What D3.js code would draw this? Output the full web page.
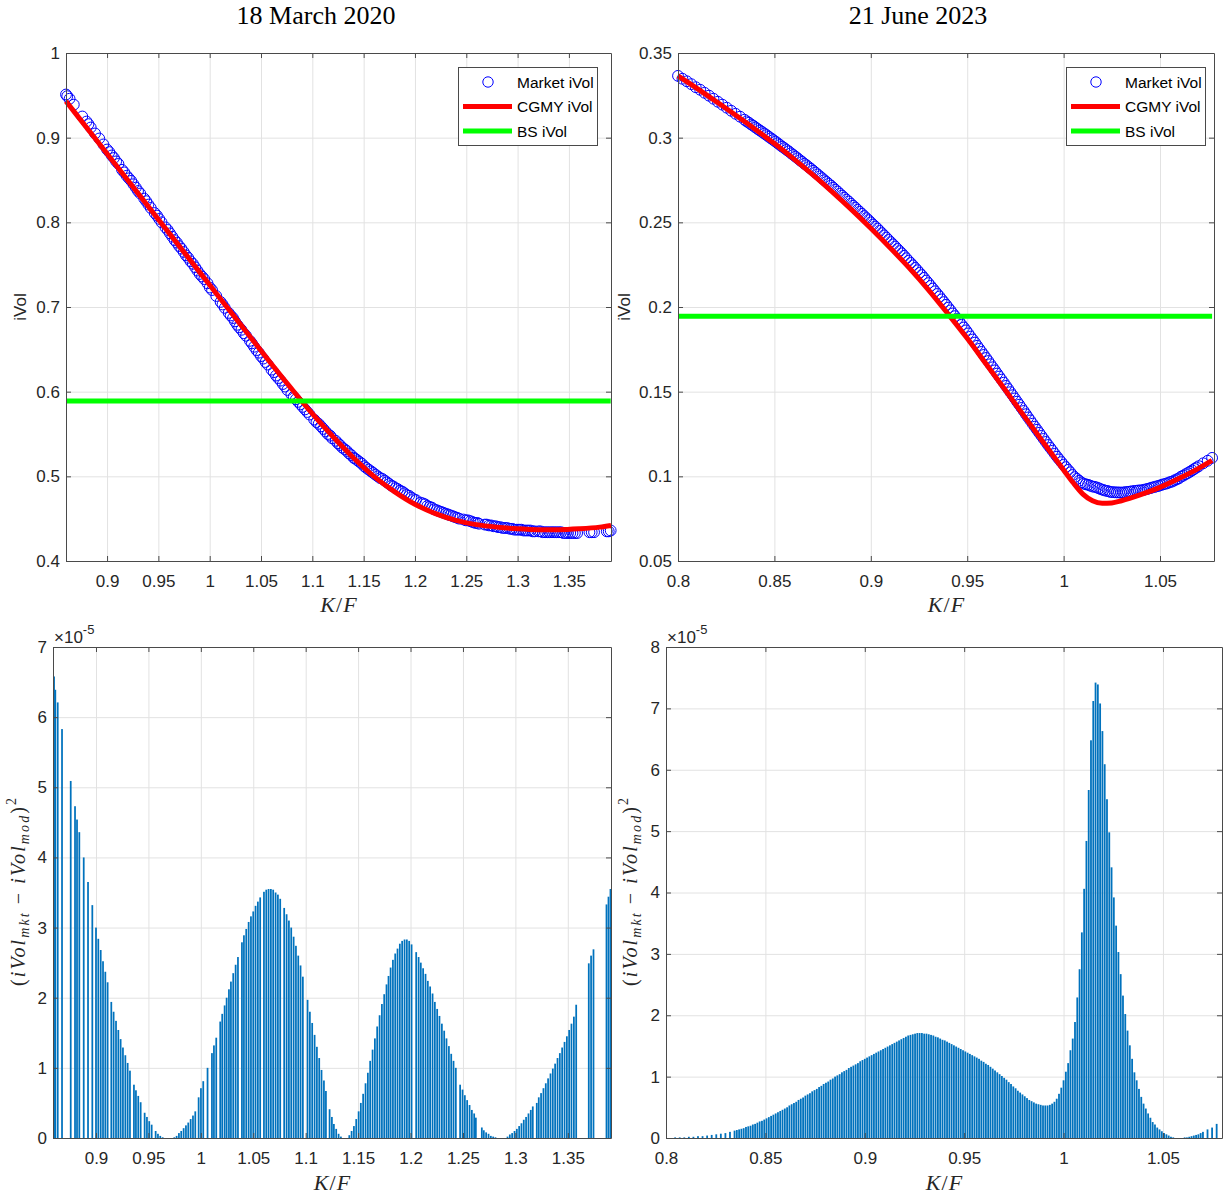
<!DOCTYPE html>
<html><head><meta charset="utf-8">
<script src="https://cdn.jsdelivr.net/npm/d3@7"></script>
<style>body{margin:0;background:#fff;}</style>
</head><body>
<svg id="c" width="1231" height="1199"></svg>
<script>
// ---------------- DATA ----------------
const titles = ["18 March 2020", "21 June 2023"];
const legendLabels = ["Market iVol", "CGMY iVol", "BS iVol"];

// 18 March 2020 : strikes as K/F, squared error (x1e-5), market implied vol
const kf2020 = [
0.8600,0.8612,0.8635,0.8676,0.8759,0.8800,0.8819,0.8841,0.8883,0.8924,
0.8965,0.9000,0.9022,0.9045,0.9067,0.9089,0.9111,0.9146,0.9168,0.9191,
0.9213,0.9235,0.9257,0.9280,0.9302,0.9324,0.9362,0.9381,0.9403,0.9426,
0.9464,0.9486,0.9508,0.9531,0.9569,0.9591,0.9613,0.9636,0.9658,0.9680,
0.9702,0.9724,0.9747,0.9769,0.9791,0.9813,0.9836,0.9858,0.9880,0.9903,
0.9925,0.9947,0.9979,1.0001,1.0023,1.0064,1.0106,1.0125,1.0147,1.0185,
1.0204,1.0227,1.0246,1.0268,1.0287,1.0309,1.0332,1.0354,1.0392,1.0411,
1.0433,1.0456,1.0478,1.0500,1.0522,1.0544,1.0566,1.0602,1.0624,1.0646,
1.0668,1.0690,1.0713,1.0735,1.0757,1.0795,1.0818,1.0840,1.0862,1.0885,
1.0907,1.0929,1.0951,1.0973,1.1018,1.1040,1.1062,1.1085,1.1107,1.1129,
1.1151,1.1174,1.1193,1.1228,1.1250,1.1269,1.1291,1.1314,1.1336,1.1358,
1.1380,1.1402,1.1416,1.1438,1.1460,1.1482,1.1505,1.1526,1.1548,1.1571,
1.1593,1.1615,1.1638,1.1660,1.1682,1.1705,1.1727,1.1749,1.1771,1.1790,
1.1810,1.1832,1.1854,1.1876,1.1898,1.1920,1.1943,1.1965,1.1987,1.2010,
1.2054,1.2077,1.2098,1.2120,1.2143,1.2165,1.2187,1.2210,1.2232,1.2254,
1.2276,1.2299,1.2321,1.2343,1.2366,1.2388,1.2410,1.2432,1.2473,1.2496,
1.2518,1.2540,1.2563,1.2585,1.2607,1.2623,1.2680,1.2699,1.2721,1.2744,
1.2766,1.2788,1.2810,1.2832,1.2854,1.2876,1.2898,1.2925,1.2947,1.2969,
1.2992,1.3014,1.3036,1.3058,1.3080,1.3102,1.3125,1.3147,1.3166,1.3204,
1.3223,1.3245,1.3268,1.3290,1.3312,1.3335,1.3357,1.3379,1.3402,1.3424,
1.3446,1.3469,1.3491,1.3513,1.3535,1.3558,1.3580,1.3700,1.3722,1.3745,
1.3869,1.3888,1.3907];
const sqErr2020 = [
6.58,6.39,6.21,5.83,5.09,4.73,4.54,4.36,4.00,3.65,
3.32,3.00,2.84,2.68,2.52,2.37,2.22,1.94,1.80,1.67,
1.54,1.41,1.29,1.18,1.07,0.96,0.76,0.68,0.60,0.51,
0.36,0.30,0.24,0.19,0.10,0.06,0.03,0.01,0.00,0.00,
0.00,0.00,0.01,0.03,0.07,0.10,0.14,0.18,0.22,0.27,
0.32,0.38,0.58,0.71,0.81,1.00,1.21,1.32,1.43,1.66,
1.77,1.89,2.00,2.12,2.23,2.35,2.47,2.58,2.79,2.89,
2.98,3.08,3.16,3.23,3.31,3.37,3.43,3.51,3.54,3.55,
3.55,3.54,3.50,3.47,3.41,3.28,3.19,3.10,3.00,2.87,
2.74,2.60,2.46,2.30,1.97,1.80,1.64,1.47,1.30,1.14,
0.97,0.82,0.67,0.41,0.30,0.20,0.13,0.06,0.02,0.00,
0.00,0.00,0.04,0.10,0.17,0.27,0.38,0.50,0.63,0.78,
0.93,1.10,1.26,1.42,1.59,1.75,1.91,2.05,2.19,2.31,
2.43,2.54,2.63,2.70,2.77,2.81,2.83,2.83,2.81,2.76,
2.65,2.58,2.50,2.42,2.34,2.24,2.16,2.06,1.94,1.84,
1.74,1.63,1.53,1.42,1.31,1.20,1.10,1.00,0.76,0.69,
0.61,0.54,0.47,0.40,0.35,0.29,0.15,0.11,0.08,0.06,
0.03,0.02,0.01,0.00,0.00,0.00,0.00,0.02,0.05,0.07,
0.10,0.13,0.17,0.21,0.26,0.30,0.35,0.40,0.45,0.50,
0.58,0.64,0.71,0.78,0.85,0.92,0.99,1.06,1.14,1.21,
1.29,1.37,1.45,1.54,1.63,1.73,1.90,2.49,2.60,2.69,
3.33,3.44,3.55];
const mkt2020 = [
0.951,0.949,0.946,0.939,0.925,0.919,0.916,0.912,0.905,0.899,
0.892,0.886,0.883,0.879,0.876,0.872,0.869,0.862,0.859,0.855,
0.852,0.849,0.845,0.841,0.837,0.834,0.828,0.825,0.821,0.817,
0.811,0.808,0.804,0.800,0.794,0.791,0.787,0.783,0.779,0.776,
0.772,0.769,0.765,0.761,0.758,0.754,0.751,0.747,0.743,0.739,
0.736,0.733,0.728,0.723,0.720,0.713,0.706,0.703,0.699,0.693,
0.690,0.687,0.683,0.679,0.676,0.673,0.669,0.666,0.660,0.657,
0.653,0.649,0.646,0.642,0.639,0.635,0.632,0.626,0.623,0.619,
0.616,0.613,0.609,0.606,0.602,0.597,0.594,0.591,0.588,0.585,
0.582,0.579,0.576,0.573,0.567,0.564,0.562,0.559,0.556,0.553,
0.550,0.548,0.545,0.542,0.539,0.537,0.534,0.532,0.530,0.527,
0.525,0.522,0.521,0.519,0.517,0.515,0.512,0.510,0.508,0.506,
0.504,0.502,0.500,0.498,0.497,0.495,0.493,0.491,0.489,0.488,
0.486,0.485,0.483,0.482,0.480,0.478,0.477,0.475,0.473,0.472,
0.469,0.468,0.467,0.465,0.464,0.463,0.461,0.460,0.459,0.458,
0.457,0.456,0.455,0.454,0.453,0.452,0.451,0.450,0.449,0.448,
0.448,0.447,0.446,0.445,0.445,0.444,0.443,0.443,0.442,0.442,
0.441,0.441,0.440,0.440,0.439,0.439,0.439,0.438,0.438,0.437,
0.437,0.437,0.437,0.436,0.436,0.436,0.436,0.435,0.435,0.435,
0.435,0.434,0.434,0.434,0.434,0.434,0.434,0.434,0.434,0.434,
0.433,0.433,0.433,0.433,0.433,0.433,0.433,0.434,0.434,0.434,
0.435,0.435,0.436];
const cgmyKf2020 = [0.860,0.880,0.900,0.920,0.940,0.960,0.980,1.000,1.020,1.040,1.060,1.080,1.100,1.120,1.140,1.160,1.180,1.200,1.220,1.240,1.260,1.280,1.300,1.320,1.340,1.360,1.380,1.391];
const cgmyVol2020 = [0.943,0.912,0.881,0.850,0.819,0.788,0.757,0.726,0.695,0.664,0.633,0.603,0.574,0.547,0.522,0.500,0.482,0.467,0.456,0.448,0.443,0.440,0.438,0.437,0.437,0.438,0.440,0.442];
const bsVol2020 = 0.589;

// 21 June 2023 : strikes K, forward F, squared error (x1e-5), market implied vol
const forward2023 = 4350;
const strikes2023 = [
3480,3490,3500,3510,3520,3530,3540,3550,3560,3570,3580,3590,3600,3610,3620,
3630,3635,3640,3645,3650,3655,3660,3665,3670,3675,
3680,3685,3690,3695,3700,3705,3710,3715,3720,3725,
3730,3735,3740,3745,3750,3755,3760,3765,3770,3775,
3780,3785,3790,3795,3800,3805,3810,3815,3820,3825,
3830,3835,3840,3845,3850,3855,3860,3865,3870,3875,
3880,3885,3890,3895,3900,3905,3910,3915,3920,3925,
3930,3935,3940,3945,3950,3955,3960,3965,3970,3975,
3980,3985,3990,3995,4000,4005,4010,4015,4020,4025,
4030,4035,4040,4045,4050,4055,4060,4065,4070,4075,
4080,4085,4090,4095,4100,4105,4110,4115,4120,4125,
4130,4135,4140,4145,4150,4155,4160,4165,4170,4175,
4180,4185,4190,4195,4200,4205,4210,4215,4220,4225,
4230,4235,4240,4245,4250,4255,4260,4265,4270,4275,
4280,4285,4290,4295,4300,4305,4310,4315,4320,4325,
4330,4335,4340,4345,4350,4355,4360,4365,4370,4375,
4380,4385,4390,4395,4400,4405,4410,4415,4420,4425,
4430,4435,4440,4445,4450,4455,4460,4465,4470,4475,
4480,4485,4490,4495,4500,4505,4510,4515,4520,4525,
4530,4535,4540,4545,4550,4555,4560,4565,4570,4575,
4580,4585,4590,4595,4600,4605,4610,4615,4620,4625,
4630,4635,4640,4645,4650,4655,
4665,4675,4685];
const sqErr2023 = [
0.00,0.00,0.01,0.01,0.01,0.02,0.02,0.03,0.03,0.04,0.05,0.06,0.07,0.08,0.10,
0.12,0.13,0.14,0.15,0.16,0.18,0.19,0.20,0.22,0.23,
0.25,0.27,0.28,0.30,0.32,0.34,0.36,0.38,0.40,0.42,
0.44,0.46,0.48,0.50,0.53,0.55,0.57,0.59,0.62,0.64,
0.66,0.69,0.71,0.73,0.76,0.78,0.80,0.83,0.85,0.88,
0.90,0.92,0.95,0.97,1.00,1.02,1.04,1.07,1.09,1.11,
1.14,1.16,1.18,1.20,1.22,1.25,1.27,1.29,1.31,1.33,
1.35,1.37,1.39,1.41,1.43,1.45,1.47,1.49,1.51,1.53,
1.55,1.57,1.59,1.61,1.63,1.65,1.67,1.68,1.69,1.70,
1.71,1.71,1.71,1.70,1.70,1.69,1.68,1.67,1.65,1.64,
1.62,1.60,1.59,1.57,1.55,1.53,1.51,1.49,1.47,1.45,
1.43,1.41,1.39,1.37,1.35,1.33,1.31,1.29,1.26,1.24,
1.21,1.19,1.16,1.13,1.10,1.07,1.04,1.01,0.98,0.95,
0.91,0.88,0.84,0.81,0.77,0.74,0.71,0.68,0.65,0.62,
0.60,0.58,0.56,0.55,0.54,0.53,0.53,0.53,0.54,0.56,
0.59,0.64,0.72,0.82,0.94,1.08,1.22,1.43,1.62,1.89,
2.29,2.75,3.35,4.06,4.84,5.67,6.48,7.12,7.42,7.39,
7.08,6.63,6.09,5.52,4.98,4.41,3.92,3.46,3.03,2.67,
2.32,2.02,1.75,1.51,1.29,1.07,0.94,0.80,0.67,0.56,
0.48,0.40,0.33,0.26,0.22,0.17,0.14,0.11,0.08,0.06,
0.04,0.02,0.01,0.00,0.00,0.00,0.00,0.01,0.01,0.02,
0.03,0.04,0.05,0.06,0.08,0.10,
0.14,0.17,0.23];
const mkt2023 = [
0.3365,0.3348,0.3333,0.3316,0.3298,0.3283,0.3265,0.3248,0.3230,0.3212,0.3195,0.3177,0.3159,0.3141,0.3124,
0.3106,0.3096,0.3088,0.3078,0.3070,0.3060,0.3051,0.3042,0.3033,0.3024,
0.3015,0.3005,0.2996,0.2986,0.2977,0.2967,0.2957,0.2947,0.2938,0.2928,
0.2919,0.2908,0.2898,0.2888,0.2878,0.2867,0.2857,0.2846,0.2837,0.2826,
0.2816,0.2805,0.2794,0.2783,0.2772,0.2761,0.2749,0.2739,0.2727,0.2717,
0.2705,0.2693,0.2682,0.2669,0.2658,0.2646,0.2634,0.2623,0.2610,0.2598,
0.2587,0.2574,0.2562,0.2550,0.2537,0.2525,0.2513,0.2500,0.2487,0.2475,
0.2463,0.2449,0.2436,0.2423,0.2410,0.2396,0.2383,0.2370,0.2357,0.2343,
0.2330,0.2317,0.2302,0.2288,0.2273,0.2260,0.2246,0.2231,0.2217,0.2202,
0.2188,0.2172,0.2156,0.2141,0.2125,0.2109,0.2093,0.2077,0.2062,0.2045,
0.2029,0.2013,0.1996,0.1980,0.1962,0.1946,0.1929,0.1913,0.1895,0.1879,
0.1862,0.1844,0.1825,0.1808,0.1790,0.1771,0.1753,0.1735,0.1717,0.1699,
0.1681,0.1662,0.1644,0.1626,0.1607,0.1589,0.1571,0.1553,0.1534,0.1516,
0.1497,0.1479,0.1460,0.1441,0.1423,0.1404,0.1386,0.1367,0.1348,0.1330,
0.1311,0.1293,0.1275,0.1257,0.1239,0.1221,0.1203,0.1185,0.1168,0.1151,
0.1133,0.1116,0.1100,0.1084,0.1068,0.1054,0.1038,0.1024,0.1008,0.0995,
0.0985,0.0974,0.0964,0.0957,0.0953,0.0950,0.0945,0.0940,0.0938,0.0934,
0.0929,0.0923,0.0919,0.0915,0.0913,0.0908,0.0907,0.0906,0.0905,0.0905,
0.0904,0.0905,0.0907,0.0908,0.0910,0.0912,0.0914,0.0915,0.0917,0.0917,
0.0920,0.0923,0.0926,0.0930,0.0934,0.0937,0.0941,0.0944,0.0949,0.0953,
0.0956,0.0960,0.0966,0.0969,0.0976,0.0982,0.0988,0.0998,0.1004,0.1012,
0.1019,0.1027,0.1035,0.1044,0.1052,0.1060,
0.1077,0.1092,0.1109];
const cgmyKf2023 = [0.800,0.810,0.820,0.830,0.840,0.850,0.860,0.870,0.880,0.890,0.900,0.910,0.920,0.930,0.940,0.950,0.960,0.970,0.980,0.990,1.000,1.005,1.010,1.015,1.020,1.025,1.030,1.040,1.050,1.060,1.070,1.077];
const cgmyVol2023 = [0.3365,0.3290,0.3212,0.3132,0.3050,0.2965,0.2875,0.2780,0.2680,0.2575,0.2465,0.2350,0.2230,0.2100,0.1960,0.1815,0.1660,0.1505,0.1348,0.1192,0.1038,0.0962,0.0895,0.0856,0.0841,0.0843,0.0856,0.0892,0.0935,0.0988,0.1047,0.1094];
const bsVol2023 = 0.1945;

// tick values / labels
const xTicks2020 = [0.9,0.95,1,1.05,1.1,1.15,1.2,1.25,1.3,1.35];
const xTickLabels2020 = ["0.9","0.95","1","1.05","1.1","1.15","1.2","1.25","1.3","1.35"];
const xTicks2023 = [0.8,0.85,0.9,0.95,1,1.05];
const xTickLabels2023 = ["0.8","0.85","0.9","0.95","1","1.05"];
const yTicksVol2020 = [0.4,0.5,0.6,0.7,0.8,0.9,1];
const yTickLabelsVol2020 = ["0.4","0.5","0.6","0.7","0.8","0.9","1"];
const yTicksVol2023 = [0.05,0.1,0.15,0.2,0.25,0.3,0.35];
const yTickLabelsVol2023 = ["0.05","0.1","0.15","0.2","0.25","0.3","0.35"];
const yTicksErr2020 = [0,1,2,3,4,5,6,7];
const yTicksErr2023 = [0,1,2,3,4,5,6,7,8];

// ---------------- DRAWING ----------------
const svg = d3.select('#c');
svg.append('rect').attr('width',1231).attr('height',1199).attr('fill','#fff');
const AX = '#262626', AXL = '#4a4a4a', GRID = '#e2e2e2';
const SANS = "'Liberation Sans', Arial, Helvetica, sans-serif";
const SERIF = "'Liberation Serif', 'Times New Roman', serif";

function panel(p){
  const x = d3.scaleLinear().domain(p.xDomain).range([p.left,p.right]);
  const y = d3.scaleLinear().domain(p.yDomain).range([p.bottom,p.top]);
  const H = p.bottom-p.top, W = p.right-p.left;
  const g = svg.append('g');
  g.append('g').attr('transform',`translate(0,${p.bottom})`)
    .call(d3.axisBottom(x).tickValues(p.xTicks).tickSize(-H).tickFormat(''))
    .call(s=>{s.select('.domain').remove(); s.selectAll('line').attr('stroke',GRID);});
  g.append('g').attr('transform',`translate(${p.left},0)`)
    .call(d3.axisLeft(y).tickValues(p.yTicks).tickSize(-W).tickFormat(''))
    .call(s=>{s.select('.domain').remove(); s.selectAll('line').attr('stroke',GRID);});
  return {x,y,p};
}
function frame(sc){
  const p = sc.p;
  const g = svg.append('g');
  g.append('g').attr('transform',`translate(0,${p.bottom})`)
    .call(d3.axisBottom(sc.x).tickValues(p.xTicks).tickFormat((d,i)=>p.xLabels[i]).tickSize(-5).tickSizeOuter(0).tickPadding(14));
  g.append('g').attr('transform',`translate(0,${p.top})`)
    .call(d3.axisTop(sc.x).tickValues(p.xTicks).tickFormat('').tickSize(-5).tickSizeOuter(0));
  g.append('g').attr('transform',`translate(${p.left},0)`)
    .call(d3.axisLeft(sc.y).tickValues(p.yTicks).tickFormat((d,i)=>p.yLabels[i]).tickSize(-5).tickSizeOuter(0).tickPadding(6));
  g.append('g').attr('transform',`translate(${p.right},0)`)
    .call(d3.axisRight(sc.y).tickValues(p.yTicks).tickFormat('').tickSize(-5).tickSizeOuter(0));
  g.selectAll('.domain').attr('stroke',AXL);
  g.selectAll('.tick line').attr('stroke',AXL);
  g.selectAll('text').attr('font-family',SANS).attr('font-size',17).attr('fill',AX);
}
function volPanel(sc, kf, mkt, cgK, cgV, bs){
  const g = svg.append('g');
  g.selectAll('circle').data(kf.map((k,i)=>[k,mkt[i]])).join('circle')
    .attr('cx',d=>sc.x(d[0])).attr('cy',d=>sc.y(d[1])).attr('r',5.4)
    .attr('fill','none').attr('stroke','#0000ff').attr('stroke-width',1);
  const line = d3.line().x(d=>sc.x(d[0])).y(d=>sc.y(d[1])).curve(d3.curveMonotoneX);
  g.append('path').attr('d',line(cgK.map((k,i)=>[k,cgV[i]]))).attr('fill','none')
    .attr('stroke','#ff0000').attr('stroke-width',5).attr('stroke-linejoin','round');
  g.append('path').attr('d',line([[kf[0],bs],[kf[kf.length-1],bs]])).attr('fill','none')
    .attr('stroke','#00ff00').attr('stroke-width',5);
}
function errPanel(sc, kf, err, w){
  svg.append('g').selectAll('rect').data(kf.map((k,i)=>[k,err[i]])).join('rect')
    .attr('x',d=>sc.x(d[0])-w/2).attr('width',w)
    .attr('y',d=>sc.y(d[1])).attr('height',d=>sc.y(0)-sc.y(d[1]))
    .attr('fill','#0072bd');
}
function legend(lx,ly){
  const g = svg.append('g');
  g.append('rect').attr('x',lx+0.5).attr('y',ly+0.5).attr('width',139).attr('height',78)
    .attr('fill','#fff').attr('stroke',AXL).attr('stroke-width',1);
  g.append('circle').attr('cx',lx+30).attr('cy',ly+15).attr('r',5.2).attr('fill','none').attr('stroke','#0000ff');
  g.append('line').attr('x1',lx+5).attr('x2',lx+54).attr('y1',ly+39.5).attr('y2',ly+39.5).attr('stroke','#ff0000').attr('stroke-width',5);
  g.append('line').attr('x1',lx+5).attr('x2',lx+54).attr('y1',ly+64).attr('y2',ly+64).attr('stroke','#00ff00').attr('stroke-width',5);
  [15,39.5,64].forEach((cy,i)=>{
    g.append('text').attr('x',lx+59).attr('y',ly+cy+5.5).attr('font-family',SANS).attr('font-size',15.5)
      .attr('fill','#000').text(legendLabels[i]);
  });
}
function kfLabel(cx,by){
  const t = svg.append('text').attr('x',cx).attr('y',by).attr('text-anchor','middle')
    .attr('font-family',SERIF).attr('font-size',22).attr('fill',AX).attr('font-style','italic');
  t.append('tspan').text('K');
  t.append('tspan').attr('font-style','normal').attr('dx',1).text('/');
  t.append('tspan').attr('dx',1).text('F');
}
function vLabel(tx,cy,txt){
  svg.append('text').attr('transform',`translate(${tx},${cy}) rotate(-90)`).attr('text-anchor','middle')
    .attr('font-family',SANS).attr('font-size',17).attr('fill',AX).text(txt);
}
function errLabel(tx,cy){
  const t = svg.append('text').attr('transform',`translate(${tx},${cy}) rotate(-90)`).attr('text-anchor','middle')
    .attr('font-family',SERIF).attr('font-size',20).attr('fill',AX)
    .attr('textLength',188).attr('lengthAdjust','spacing');
  t.append('tspan').text('(');
  t.append('tspan').attr('font-style','italic').text('iVol');
  t.append('tspan').attr('font-style','italic').attr('font-size',14).attr('dy',4).text('mkt');
  t.append('tspan').attr('dy',-4).text(' \u2212 ');
  t.append('tspan').attr('font-style','italic').text('iVol');
  t.append('tspan').attr('font-style','italic').attr('font-size',14).attr('dy',4).text('mod');
  t.append('tspan').attr('dy',-4).text(')');
  t.append('tspan').attr('font-size',14).attr('dy',-9).text('2');
}
function expLabel(x0,by){
  const t = svg.append('text').attr('x',x0).attr('y',by).attr('font-family',SANS).attr('font-size',17).attr('fill',AX);
  t.append('tspan').text('\u00d710');
  t.append('tspan').attr('font-size',13).attr('dy',-9).text('-5');
}

// panels
const P1 = panel({left:66,right:611,top:53,bottom:561,xDomain:[0.8600,1.3910],yDomain:[0.4,1],
  xTicks:xTicks2020,xLabels:xTickLabels2020,yTicks:yTicksVol2020,yLabels:yTickLabelsVol2020});
const P2 = panel({left:678,right:1214,top:53,bottom:561,xDomain:[0.8,1.078],yDomain:[0.05,0.35],
  xTicks:xTicks2023,xLabels:xTickLabels2023,yTicks:yTicksVol2023,yLabels:yTickLabelsVol2023});
const P3 = panel({left:53,right:611,top:647,bottom:1138,xDomain:[0.859,1.3912],yDomain:[0,7],
  xTicks:xTicks2020,xLabels:xTickLabels2020,yTicks:yTicksErr2020,yLabels:yTicksErr2020.map(String)});
const P4 = panel({left:666,right:1222,top:647,bottom:1138,xDomain:[0.8,1.0797],yDomain:[0,8],
  xTicks:xTicks2023,xLabels:xTickLabels2023,yTicks:yTicksErr2023,yLabels:yTicksErr2023.map(String)});

const kf2023 = strikes2023.map(k=>k/forward2023);
volPanel(P1, kf2020, mkt2020, cgmyKf2020, cgmyVol2020, bsVol2020);
volPanel(P2, kf2023, mkt2023, cgmyKf2023, cgmyVol2023, bsVol2023);
errPanel(P3, kf2020, sqErr2020, 1.75);
errPanel(P4, kf2023, sqErr2023, 1.8);
[P1,P2,P3,P4].forEach(frame);
legend(458,67);
legend(1066,67);

// titles and axis labels
svg.append('text').attr('x',316).attr('y',24).attr('text-anchor','middle').attr('font-family',SERIF)
  .attr('font-size',26).attr('fill','#000').text(titles[0]);
svg.append('text').attr('x',918).attr('y',24).attr('text-anchor','middle').attr('font-family',SERIF)
  .attr('font-size',26).attr('fill','#000').text(titles[1]);
kfLabel(338.5,612); kfLabel(946,612); kfLabel(332,1190); kfLabel(944,1190);
vLabel(26,307,'iVol'); vLabel(630,307,'iVol');
errLabel(25,892); errLabel(637,892);
expLabel(54,643); expLabel(667,643);
</script>
</body></html>
